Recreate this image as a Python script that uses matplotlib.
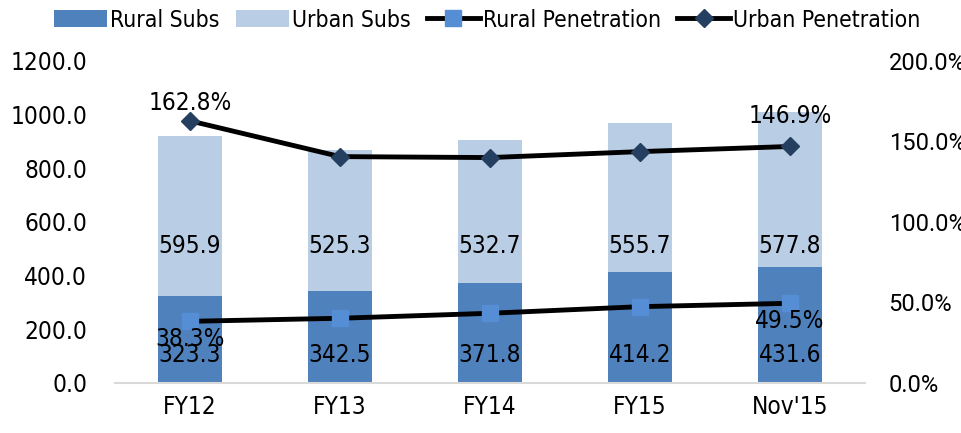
import numpy as np
import matplotlib.pyplot as plt

plt.rcParams['font.family'] = ['DejaVu Sans']
plt.rcParams['font.stretch'] = 'condensed'

categories = ['FY12', 'FY13', 'FY14', 'FY15', "Nov'15"]
rural_subs = [323.3, 342.5, 371.8, 414.2, 431.6]
urban_subs = [595.9, 525.3, 532.7, 555.7, 577.8]
rural_pen = [38.3, 40.2, 43.3, 47.4, 49.5]
urban_pen = [162.8, 140.6, 140.0, 143.7, 146.9]

rural_col = '#4F81BD'
urban_col = '#B9CDE5'
fs = 17.5

fig = plt.figure(figsize=(9.61, 4.33), dpi=100)
ax = fig.add_axes([0.1197, 0.1155, 0.7804, 0.7437])
x = np.arange(len(categories))

b1 = ax.bar(x, rural_subs, width=0.43, color=rural_col, label='Rural Subs')
b2 = ax.bar(x, urban_subs, width=0.43, bottom=rural_subs, color=urban_col, label='Urban Subs')

ax.set_ylim(0, 1200)
ax.set_xlim(-0.5, len(categories) - 0.5)
ax.set_yticks(np.arange(0, 1201, 200))
ax.set_yticklabels([f'{v:.1f}' for v in np.arange(0, 1201, 200)], fontsize=fs)
ax.set_xticks(x)
ax.set_xticklabels(categories, fontsize=fs)
ax.tick_params(axis='y', length=0, pad=20)
ax.tick_params(axis='x', length=0, pad=9)
for s in ['top', 'right', 'left']:
    ax.spines[s].set_visible(False)
ax.spines['bottom'].set_color('#d9d9d9')
ax.spines['bottom'].set_linewidth(1.5)

# bar value labels
for i in range(len(categories)):
    ax.text(x[i], 105, f'{rural_subs[i]:.1f}', ha='center', va='center', fontsize=fs)
    ax.text(x[i], 510, f'{urban_subs[i]:.1f}', ha='center', va='center', fontsize=fs)

ax2 = ax.twinx()
ax2.set_ylim(0, 200)
l1, = ax2.plot(x, rural_pen, color='black', lw=3.5, marker='s', ms=11,
               mfc='#558ED5', mec='#558ED5', label='Rural Penetration')
l2, = ax2.plot(x, urban_pen, color='black', lw=3.5, marker='D', ms=9,
               mfc='#243F60', mec='#243F60', label='Urban Penetration')
ax2.set_yticks(np.arange(0, 201, 50))
ax2.set_yticklabels([f'{v:.1f}%' for v in np.arange(0, 201, 50)],
                    fontsize=17, family=['Roboto', 'DejaVu Sans'], stretch='normal')
ax2.tick_params(axis='y', length=0, pad=17)
for s in ['top', 'right', 'left', 'bottom']:
    ax2.spines[s].set_visible(False)

ax2.text(x[0], urban_pen[0] + 11, f'{urban_pen[0]:.1f}%', ha='center', va='center', fontsize=fs)
ax2.text(x[-1], urban_pen[-1] + 19, f'{urban_pen[-1]:.1f}%', ha='center', va='center', fontsize=fs)
ax2.text(x[0], rural_pen[0] - 11, f'{rural_pen[0]:.1f}%', ha='center', va='center', fontsize=fs)
ax2.text(x[-1], rural_pen[-1] - 11, f'{rural_pen[-1]:.1f}%', ha='center', va='center', fontsize=fs)

fig.legend(handles=[b1, b2, l1, l2], loc='upper left', bbox_to_anchor=(0.035, 1.028),
           ncol=4, frameon=False, fontsize=16.5, handlelength=2.3, handletextpad=0.15,
           columnspacing=0.7)

fig.savefig('out.png', dpi=100)
